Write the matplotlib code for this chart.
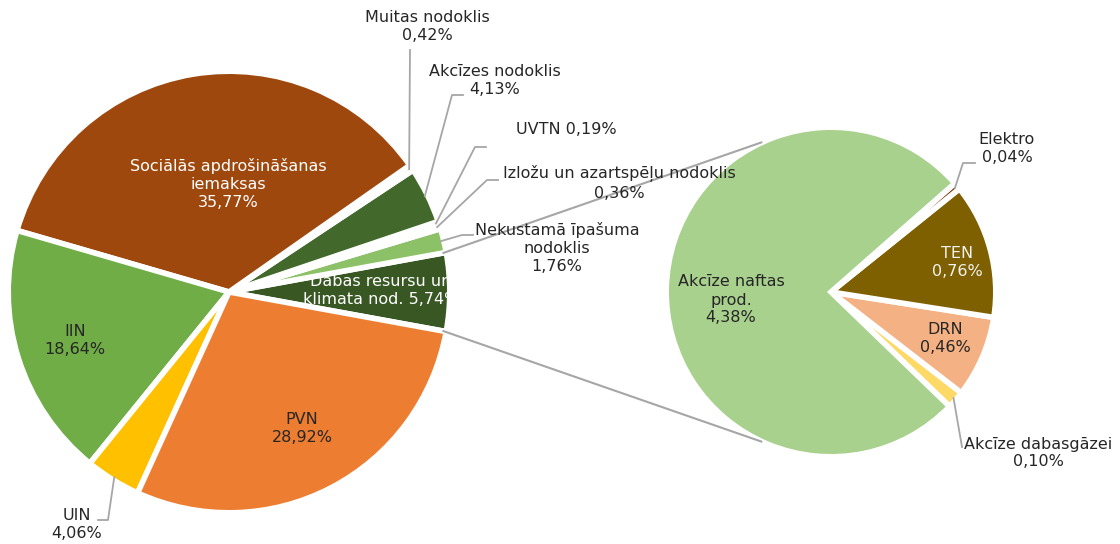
import numpy as np
import matplotlib.pyplot as plt

H = 544  # attēla augstums pikseļos

# galvenais aplis, pretēji pulksteņrādītājam, sākot ar "Dabas resursu..." daļu
main_names = ['Dabas resursu un\nklimata nod. {}', 'Nekustamā īpašuma\nnodoklis\n{}',
              'Izložu un azartspēļu nodoklis\n{}', 'UVTN {}', 'Akcīzes nodoklis\n{}',
              'Muitas nodoklis\n{}', 'Sociālās apdrošināšanas\niemaksas\n{}',
              'IIN\n{}', 'UIN\n{}', 'PVN\n{}']
main_vals = [5.74, 1.76, 0.36, 0.19, 4.13, 0.42, 35.77, 18.64, 4.06, 28.92]
main_colors = ['#385723', '#8cc168', '#ffd966', '#f8cbad', '#43682b',
               '#a57c00', '#9e480e', '#70ad47', '#ffc000', '#ed7d31']
main_txt = ['white', '#262626', '#262626', '#262626', '#262626',
            '#262626', 'white', '#262626', '#262626', '#262626']

# mazais aplis
sub_names = ['Akcīze dabasgāzei\n{}', 'DRN\n{}', 'TEN\n{}', 'Elektro\n{}', 'Akcīze naftas\nprod.\n{}']
sub_vals = [0.10, 0.46, 0.76, 0.04, 4.38]
sub_colors = ['#ffd966', '#f4b183', '#7f6000', '#843c0c', '#a9d18e']
sub_txt = ['#262626', '#262626', '#f2f2f2', '#262626', '#262626']

# uzrakstu novietojums (pikseļos no augšas) un vadlīniju lūzuma punkti
main_pos = [(381, 291), (557, 248), (619, 183), (566, 130), (495, 80),
            (427, 27), (228, 184), (75, 341), (77, 525), (302, 428)]
main_knee = [None, (462, 235), (487, 180), (475, 147), (452, 95),
             (410, 50), None, None, (108, 520), None]
main_tail = [None, (473, 235), (498, 180), (486, 147), (463, 95),
             None, None, None, (98, 520), None]
sub_pos = [(1038, 453), (945, 338), (957, 263), (1007, 148), (731, 300)]
sub_knee = [(962, 447), None, None, (963, 163), None]
sub_tail = [None, None, None, (975, 163), None]

c1, r1 = (229, H - 292), 218
c2, r2 = (831, H - 292), 162
edge = 4.0
pad = edge * 100 / 72 / 2
FS = 11.5
GREY = '#a6a6a6'


def pct(v):
    return '{:.2f}%'.format(v).replace('.', ',')


fig = plt.figure(figsize=(11.2, 5.44), dpi=100)
ax = fig.add_axes([0, 0, 1, 1])

st1 = -main_vals[0] / sum(main_vals) * 360 / 2
w1, _ = ax.pie(main_vals, colors=main_colors, startangle=st1, center=c1, radius=r1 + pad,
               wedgeprops=dict(edgecolor='white', linewidth=edge), frame=True)
w2, _ = ax.pie(sub_vals, colors=sub_colors, startangle=-44, center=c2, radius=r2 + pad,
               wedgeprops=dict(edgecolor='white', linewidth=edge), frame=True)


def labels(wedges, c, r, names, vals, pos, knee, tail, colors):
    for w, n, v, p, k, t, col in zip(wedges, names, vals, pos, knee, tail, colors):
        if k is not None:
            a = np.deg2rad((w.theta1 + w.theta2) / 2)
            xs = [c[0] + r * np.cos(a), k[0]]
            ys = [c[1] + r * np.sin(a), H - k[1]]
            if t is not None:
                xs.append(t[0])
                ys.append(H - t[1])
            ax.plot(xs, ys, color=GREY, lw=1.3, zorder=1)
        ax.text(p[0], H - p[1], n.format(pct(v)), ha='center', va='center',
                fontsize=FS, color=col, linespacing=1.25, zorder=3)


labels(w1, c1, r1, main_names, main_vals, main_pos, main_knee, main_tail, main_txt)
labels(w2, c2, r2, sub_names, sub_vals, sub_pos, sub_knee, sub_tail, sub_txt)

# savienojošās līnijas starp apļiem
for th, sgn in [(w1[0].theta2, 1), (w1[0].theta1, -1)]:
    a = np.deg2rad(th)
    b = np.deg2rad(sgn * 115)
    ax.plot([c1[0] + r1 * np.cos(a), c2[0] + (r2 + 3) * np.cos(b)],
            [c1[1] + r1 * np.sin(a), c2[1] + (r2 + 3) * np.sin(b)],
            color=GREY, lw=1.5, zorder=2)

ax.set_xlim(0, 1120)
ax.set_ylim(0, H)
ax.set_aspect('equal')
ax.axis('off')
fig.savefig('out.png', dpi=100, facecolor='white')
